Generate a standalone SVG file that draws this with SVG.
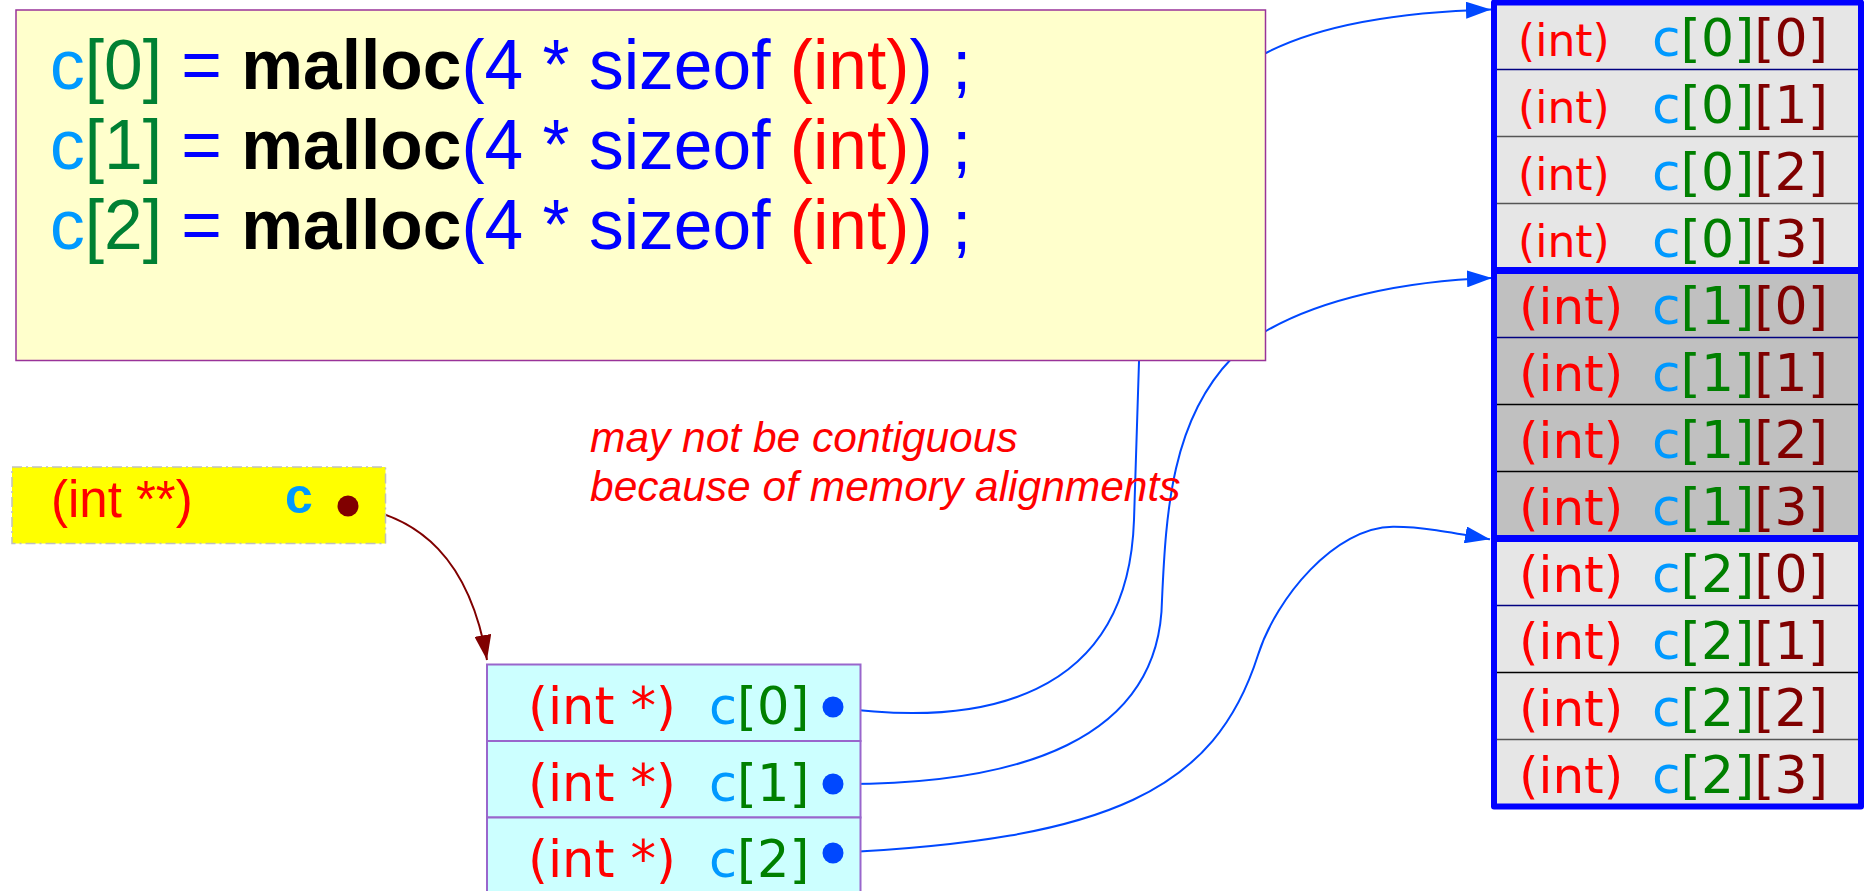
<svg xmlns="http://www.w3.org/2000/svg" width="1865" height="891" viewBox="0 0 1865 891">
<defs>
<style>
.code{font-family:"Liberation Sans",Arial,sans-serif;font-size:69.5px}
.dv{font-family:"DejaVu Sans",sans-serif}
.red{fill:#ff0000}
.cb{fill:#0099ff}
.g{fill:#008000}
.dr{fill:#800000}
.blue{fill:#0000ff}
.conn{fill:none;stroke:#0048ff;stroke-width:2}
.sep{stroke-width:1.6}
.note{font-family:"Liberation Sans",Arial,sans-serif;font-size:42.5px;font-style:italic;fill:#ff0000}
.cell{fill:#ccffff;stroke:#9966cc;stroke-width:2}
</style>
<marker id="ab" markerUnits="userSpaceOnUse" markerWidth="25" markerHeight="17" refX="25" refY="8.5" orient="auto" viewBox="0 0 25 17">
<path d="M0,0 L25,8.5 L0,17 z" fill="#0048ff"/>
</marker>
<marker id="ar" markerUnits="userSpaceOnUse" markerWidth="25" markerHeight="17" refX="25" refY="8.5" orient="auto" viewBox="0 0 25 17">
<path d="M0,0 L25,8.5 L0,17 z" fill="#800000"/>
</marker>
</defs>
<rect width="1865" height="891" fill="#ffffff"/>

<g id="connectors">
<path class="conn" d="M833,707 C980,728 1128,700 1134,520 L1140,330 C1142,150 1220,80 1266,53 C1320,25 1400,12 1491,9.5" marker-end="url(#ab)"/>
<path class="conn" d="M833,784 C1020,786 1160,740 1162,600 C1166,510 1172,420 1232,358 L1266,331 C1320,300 1400,281 1492,278" marker-end="url(#ab)"/>
<path class="conn" d="M833,853 C1110,840 1215,790 1258,655 C1276,598 1335,527 1393,526.7 C1420,526.5 1450,532 1490,539.3" marker-end="url(#ab)"/>
<path d="M348,506 C420,515 470,560 487,660" fill="none" stroke="#800000" stroke-width="2" marker-end="url(#ar)"/>
</g>

<g id="code-box">
<rect x="16" y="10" width="1249.5" height="350.5" fill="#ffffcc" stroke="#993399" stroke-width="1.5"/>
<text class="code" x="50" y="89"><tspan class="cb">c</tspan><tspan fill="#008033">[0]</tspan><tspan class="blue"> = </tspan><tspan font-weight="bold" fill="#000000">malloc</tspan><tspan class="blue">(4 * sizeof </tspan><tspan class="red">(int)</tspan><tspan class="blue">) ;</tspan></text>
<text class="code" x="50" y="169"><tspan class="cb">c</tspan><tspan fill="#008033">[1]</tspan><tspan class="blue"> = </tspan><tspan font-weight="bold" fill="#000000">malloc</tspan><tspan class="blue">(4 * sizeof </tspan><tspan class="red">(int)</tspan><tspan class="blue">) ;</tspan></text>
<text class="code" x="50" y="249"><tspan class="cb">c</tspan><tspan fill="#008033">[2]</tspan><tspan class="blue"> = </tspan><tspan font-weight="bold" fill="#000000">malloc</tspan><tspan class="blue">(4 * sizeof </tspan><tspan class="red">(int)</tspan><tspan class="blue">) ;</tspan></text>
</g>

<g id="note">
<text class="note" x="590" y="452">may not be contiguous</text>
<text class="note" x="590" y="501">because of memory alignments</text>
</g>

<g id="var-c">
<rect x="12" y="467" width="373.5" height="76.5" fill="#ffff00" stroke="#c0c0c0" stroke-width="1.5" stroke-dasharray="10 4 2 4"/>
<text x="51" y="517" font-family="Liberation Sans, Arial, sans-serif" font-size="51" fill="#ff0000">(int **)</text>
<text x="285" y="513" font-family="Liberation Sans, Arial, sans-serif" font-size="50" font-weight="bold" fill="#0099ff">c</text>
<circle cx="348" cy="506" r="10.5" fill="#800000"/>
</g>

<g id="ptr-array">
<rect class="cell" x="487" y="664.5" width="373.5" height="76.5"/>
<rect class="cell" x="487" y="741" width="373.5" height="76.5"/>
<rect class="cell" x="487" y="817.5" width="373.5" height="80"/>
<text class="dv" x="528" y="724" font-size="51"><tspan class="red">(int *)</tspan><tspan x="709" class="cb">c</tspan><tspan class="g">[0]</tspan></text>
<text class="dv" x="528" y="801" font-size="51"><tspan class="red">(int *)</tspan><tspan x="709" class="cb">c</tspan><tspan class="g">[1]</tspan></text>
<text class="dv" x="528" y="877" font-size="51"><tspan class="red">(int *)</tspan><tspan x="709" class="cb">c</tspan><tspan class="g">[2]</tspan></text>
<circle cx="833" cy="707" r="10.5" fill="#0048ff"/>
<circle cx="833" cy="784" r="10.5" fill="#0048ff"/>
<circle cx="833" cy="853" r="10.5" fill="#0048ff"/>
</g>

<g id="memory">
<rect x="1494" y="2.5" width="367" height="268" fill="#e6e6e6"/>
<rect x="1494" y="270.5" width="367" height="268" fill="#c0c0c0"/>
<rect x="1494" y="538.5" width="367" height="268" fill="#e6e6e6"/>
<g class="sep">
<line x1="1494" y1="69.5" x2="1861" y2="69.5" stroke="#000080"/>
<line x1="1494" y1="136.5" x2="1861" y2="136.5" stroke="#555555"/>
<line x1="1494" y1="203.5" x2="1861" y2="203.5" stroke="#555555"/>
<line x1="1494" y1="337.5" x2="1861" y2="337.5" stroke="#000080"/>
<line x1="1494" y1="404.5" x2="1861" y2="404.5" stroke="#000000"/>
<line x1="1494" y1="471.5" x2="1861" y2="471.5" stroke="#000000"/>
<line x1="1494" y1="605.5" x2="1861" y2="605.5" stroke="#000080"/>
<line x1="1494" y1="672.5" x2="1861" y2="672.5" stroke="#000000"/>
<line x1="1494" y1="739.5" x2="1861" y2="739.5" stroke="#555555"/>
</g>
<line x1="1494" y1="270.5" x2="1861" y2="270.5" stroke="#0000ff" stroke-width="7"/>
<line x1="1494" y1="538.5" x2="1861" y2="538.5" stroke="#0000ff" stroke-width="7"/>
<rect x="1494" y="2.5" width="367" height="804" fill="none" stroke="#0000ff" stroke-width="6" stroke-linejoin="round"/>
<g class="dv">
<text x="1518" y="55.5" font-size="44" class="red">(int)</text><text x="1652" y="55.5" font-size="52"><tspan class="cb">c</tspan><tspan class="g">[0]</tspan><tspan class="dr">[0]</tspan></text>
<text x="1518" y="122.5" font-size="44" class="red">(int)</text><text x="1652" y="122.5" font-size="52"><tspan class="cb">c</tspan><tspan class="g">[0]</tspan><tspan class="dr">[1]</tspan></text>
<text x="1518" y="189.5" font-size="44" class="red">(int)</text><text x="1652" y="189.5" font-size="52"><tspan class="cb">c</tspan><tspan class="g">[0]</tspan><tspan class="dr">[2]</tspan></text>
<text x="1518" y="256.5" font-size="44" class="red">(int)</text><text x="1652" y="256.5" font-size="52"><tspan class="cb">c</tspan><tspan class="g">[0]</tspan><tspan class="dr">[3]</tspan></text>
<text x="1519" y="323.5" font-size="50" class="red">(int)</text><text x="1652" y="323.5" font-size="52"><tspan class="cb">c</tspan><tspan class="g">[1]</tspan><tspan class="dr">[0]</tspan></text>
<text x="1519" y="390.5" font-size="50" class="red">(int)</text><text x="1652" y="390.5" font-size="52"><tspan class="cb">c</tspan><tspan class="g">[1]</tspan><tspan class="dr">[1]</tspan></text>
<text x="1519" y="457.5" font-size="50" class="red">(int)</text><text x="1652" y="457.5" font-size="52"><tspan class="cb">c</tspan><tspan class="g">[1]</tspan><tspan class="dr">[2]</tspan></text>
<text x="1519" y="524.5" font-size="50" class="red">(int)</text><text x="1652" y="524.5" font-size="52"><tspan class="cb">c</tspan><tspan class="g">[1]</tspan><tspan class="dr">[3]</tspan></text>
<text x="1519" y="591.5" font-size="50" class="red">(int)</text><text x="1652" y="591.5" font-size="52"><tspan class="cb">c</tspan><tspan class="g">[2]</tspan><tspan class="dr">[0]</tspan></text>
<text x="1519" y="658.5" font-size="50" class="red">(int)</text><text x="1652" y="658.5" font-size="52"><tspan class="cb">c</tspan><tspan class="g">[2]</tspan><tspan class="dr">[1]</tspan></text>
<text x="1519" y="725.5" font-size="50" class="red">(int)</text><text x="1652" y="725.5" font-size="52"><tspan class="cb">c</tspan><tspan class="g">[2]</tspan><tspan class="dr">[2]</tspan></text>
<text x="1519" y="792.5" font-size="50" class="red">(int)</text><text x="1652" y="792.5" font-size="52"><tspan class="cb">c</tspan><tspan class="g">[2]</tspan><tspan class="dr">[3]</tspan></text>
</g>
</g>
</svg>
